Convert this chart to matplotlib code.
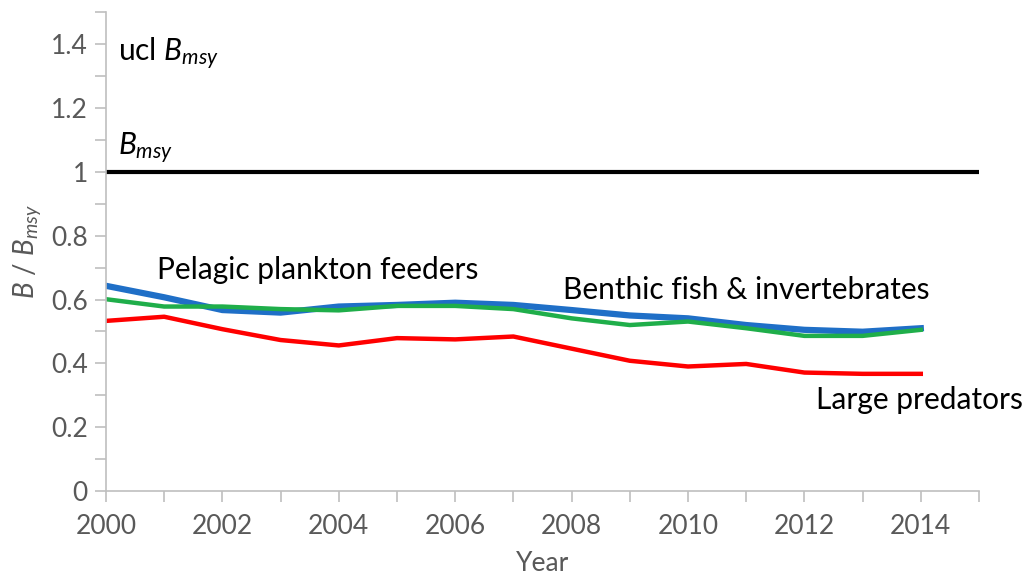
import numpy as np
import matplotlib
matplotlib.use("Agg")
import matplotlib.pyplot as plt
from matplotlib.ticker import MultipleLocator

plt.rcParams["font.family"] = ["Lato", "DejaVu Sans"]
plt.rcParams["mathtext.fontset"] = "custom"
plt.rcParams["mathtext.rm"] = "Lato"
plt.rcParams["mathtext.it"] = "Lato:italic"

# données
years = np.arange(2000, 2015)
pelagic = [0.643, 0.607, 0.567, 0.559, 0.578, 0.583, 0.590, 0.583, 0.567,
           0.550, 0.541, 0.520, 0.505, 0.499, 0.510]
benthic = [0.601, 0.578, 0.578, 0.570, 0.566, 0.580, 0.580, 0.570, 0.541,
           0.520, 0.531, 0.510, 0.486, 0.486, 0.505]
predators = [0.533, 0.546, 0.507, 0.473, 0.456, 0.479, 0.475, 0.484, 0.446,
             0.408, 0.390, 0.398, 0.371, 0.367, 0.367]
bmsy = 1.0

gris = "#595959"
axe = "#bfbfbf"

fig = plt.figure(figsize=(10.29, 5.83), dpi=100)
ax = fig.add_axes([0.103, 0.158, 0.8484, 0.8206])

ax.axhline(bmsy, color="black", lw=3, solid_capstyle="butt")
ax.plot(years, pelagic, color="#1f6fc7", lw=4.5)
ax.plot(years, benthic, color="#1fae4a", lw=3.2)
ax.plot(years, predators, color="#ff0000", lw=3.2)

ax.set_xlim(2000, 2015)
ax.set_ylim(0, 1.5)
ax.xaxis.set_major_locator(MultipleLocator(2))
ax.xaxis.set_minor_locator(MultipleLocator(1))
ax.yaxis.set_minor_locator(MultipleLocator(0.1))
ax.set_yticks(np.arange(0, 1.41, 0.2))
ax.set_yticklabels(["0", "0.2", "0.4", "0.6", "0.8", "1", "1.2", "1.4"])

for s in ["top", "right"]:
    ax.spines[s].set_visible(False)
for s in ["left", "bottom"]:
    ax.spines[s].set_color(axe)
    ax.spines[s].set_linewidth(1.2)

ax.tick_params(which="both", color=axe, width=1.2, length=8, labelsize=19,
               labelcolor=gris, pad=5)
ax.tick_params(axis="x", pad=9)

ax.set_xlabel("Year", fontsize=19, color=gris, labelpad=8)
ax.set_ylabel(r"$B$ / $B_{msy}$", fontsize=20, color=gris, labelpad=6)

ax.text(2000.2, 1.37, r"ucl $B_{msy}$", fontsize=21.5, va="center")
ax.text(2000.2, 1.02, r"$B_{msy}$", fontsize=21.5, va="bottom")
ax.text(2000.88, 0.693, "Pelagic plankton feeders", fontsize=21.5, va="center")
ax.text(2007.85, 0.63, "Benthic fish & invertebrates", fontsize=21.5, va="center")
ax.text(2012.2, 0.285, "Large predators", fontsize=21.5, va="center")

fig.savefig("out.png", dpi=100)
